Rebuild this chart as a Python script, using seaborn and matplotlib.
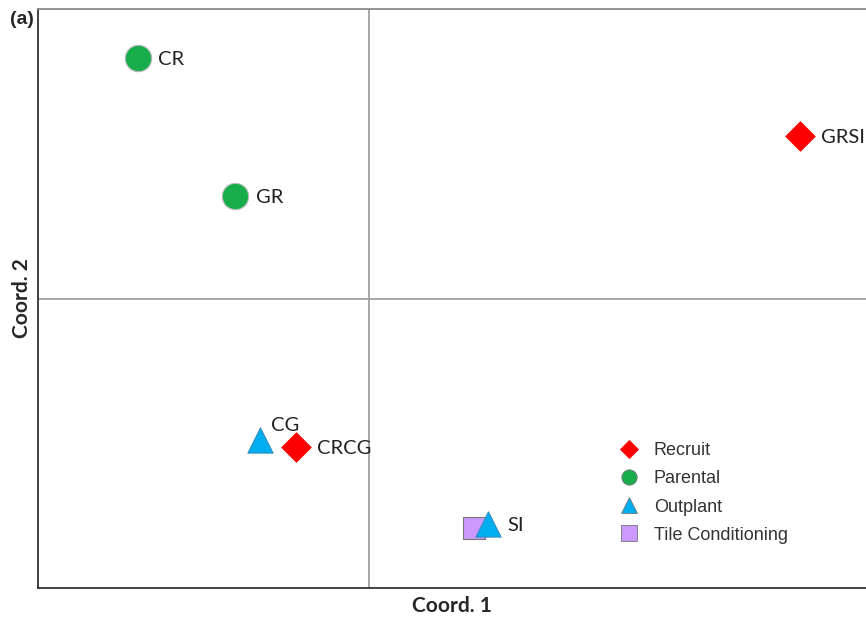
import matplotlib
matplotlib.use("Agg")
import matplotlib.pyplot as plt
from matplotlib.lines import Line2D
import seaborn as sns
import pandas as pd

# PCoA ordination scores
sites = ["CR", "GR", "GRSI", "CG", "CRCG", "SI", "SI"]
groups = ["Parental", "Parental", "Recruit", "Outplant", "Recruit", "Tile Conditioning", "Outplant"]
coord1 = [-0.279, -0.162, 0.520, -0.132, -0.088, 0.126, 0.143]
coord2 = [0.415, 0.177, 0.281, -0.244, -0.256, -0.396, -0.389]

legend_order = ["Recruit", "Parental", "Outplant", "Tile Conditioning"]
colors = {"Recruit": "#FF0000", "Parental": "#17AD4A",
          "Outplant": "#00AEEF", "Tile Conditioning": "#CC99FF"}
edges = {"Recruit": "#FF0000", "Parental": "#BBBBBB",
         "Outplant": "#3A8FC0", "Tile Conditioning": "#777777"}
markers = {"Recruit": "D", "Parental": "o", "Outplant": "^", "Tile Conditioning": "s"}
sizes = {"Recruit": 220, "Parental": 360, "Outplant": 330, "Tile Conditioning": 260}

# label offsets in points (dx, dy)
label_offsets = {"CR": (14, -1), "GR": (15, -1), "GRSI": (15, -1), "CG": (8, 10),
                 "CRCG": (15, -1), "SI": (24, 2)}

df = pd.DataFrame({"site": sites, "group": groups, "x": coord1, "y": coord2})

sns.set_style("white")
fig = plt.figure(figsize=(8.66, 6.19), dpi=100)
ax = fig.add_axes([38 / 866, 1 - 588 / 619, 1 - 38 / 866, (588 - 9) / 619])

ax.axvline(0, color="#A0A0A0", lw=1.3, zorder=0)
ax.axhline(0, color="#A0A0A0", lw=1.3, zorder=0)

for g in ["Tile Conditioning", "Parental", "Outplant", "Recruit"]:
    sub = df[df["group"] == g]
    sns.scatterplot(data=sub, x="x", y="y", marker=markers[g], s=sizes[g],
                    color=colors[g], edgecolor=edges[g], linewidth=0.8,
                    ax=ax, legend=False, zorder=3)

seen = set()
for _, r in df.iterrows():
    if r["site"] in seen:
        continue
    seen.add(r["site"])
    dx, dy = label_offsets[r["site"]]
    ax.annotate(r["site"], (r["x"], r["y"]), xytext=(dx, dy), textcoords="offset points",
                ha="left", va="center", fontsize=14.5, family="Lato", color="#222222")

ax.set_xlim(-0.4, 0.6)
ax.set_ylim(-0.5, 0.5)
ax.set_xticks([])
ax.set_yticks([])
ax.set_xlabel("Coord. 1", fontsize=15, fontweight="bold", family="Lato", labelpad=6)
ax.set_ylabel("Coord. 2", fontsize=15, fontweight="bold", family="Lato", labelpad=4)

for side in ["left", "bottom"]:
    ax.spines[side].set_color("#333333")
    ax.spines[side].set_linewidth(1.3)
ax.spines["top"].set_color("#8A8A8A")
ax.spines["top"].set_linewidth(1.3)
ax.spines["right"].set_visible(False)

handles = [Line2D([], [], linestyle="none", marker=markers[g], markersize=11 if g != "Recruit" else 9,
                  markerfacecolor=colors[g], markeredgecolor="#777777" if g != "Recruit" else colors[g],
                  markeredgewidth=0.6) for g in legend_order]
leg = ax.legend(handles, legend_order, loc="upper left", bbox_to_anchor=(0.677, 0.28),
                frameon=False, labelspacing=0.62, handletextpad=0.55, handlelength=1.6,
                prop={"family": "Liberation Sans", "size": 13})
for t in leg.get_texts():
    t.set_color("#333333")

fig.text(10 / 866, 1 - 20 / 619, "(a)", fontsize=14, fontweight="bold",
         family="Liberation Sans", va="center", ha="left")

fig.savefig("out.png", dpi=100)
